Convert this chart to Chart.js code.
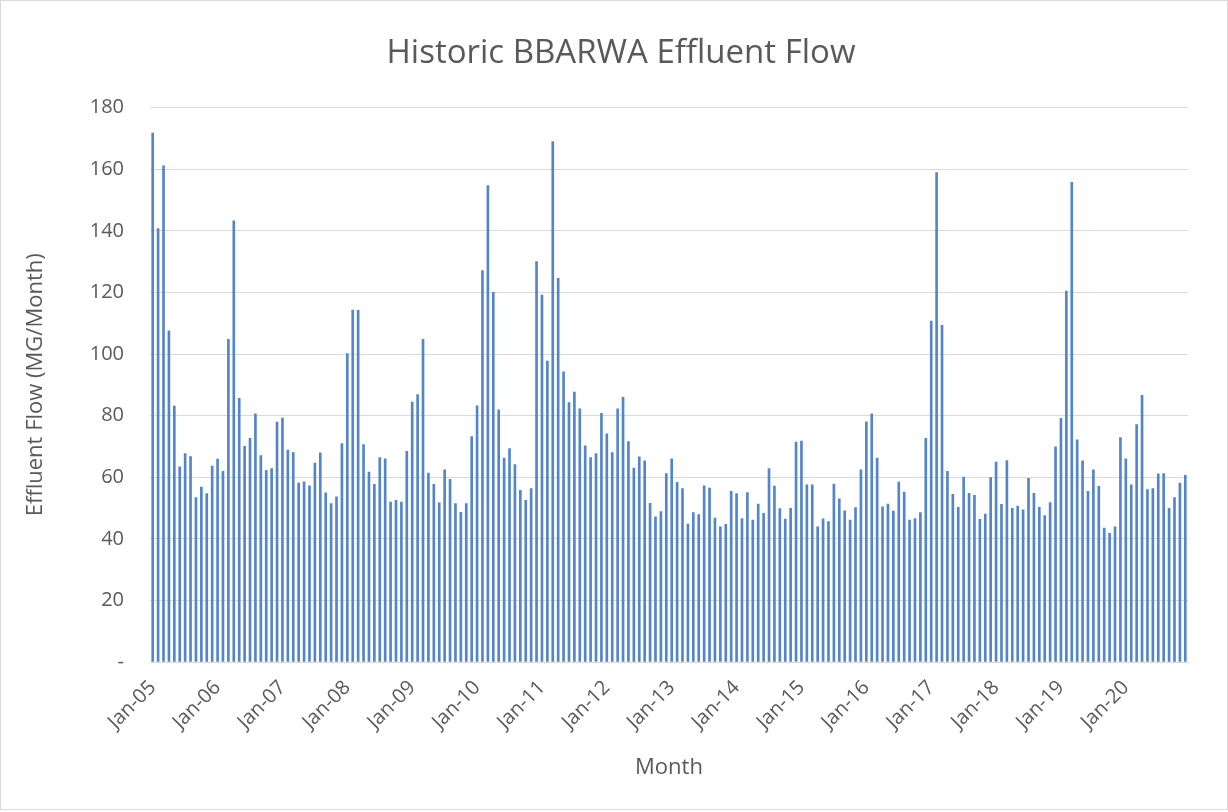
<!DOCTYPE html>
<html>
<head>
    <title>Historic BBARWA Effluent Flow</title>
    <script src="https://cdn.jsdelivr.net/npm/chart.js"></script>
    <style>
        body { margin: 0; background: #fff; }
        #wrap { position: relative; width: 1228px; height: 812px; }
        #frame { position: absolute; left: 0; top: 0; width: 1226px; height: 808px; border: 1px solid #d9d9d9; pointer-events: none; }
    </style>
</head>
<body>
<div id="wrap">
    <canvas id="flowChart" width="1228" height="812"></canvas>
    <div id="frame"></div>
</div>
<script>
    // monthly effluent flow, MG/month
    const years = ['05', '06', '07', '08', '09', '10', '11', '12', '13', '14', '15', '16', '17', '18', '19', '20'];
    const monthNames = ['Jan', 'Feb', 'Mar', 'Apr', 'May', 'Jun', 'Jul', 'Aug', 'Sep', 'Oct', 'Nov', 'Dec'];

    const flow2005 = [171.7, 140.7, 161.1, 107.5, 83.1, 63.4, 67.7, 66.7, 53.4, 56.8, 54.7, 63.6];
    const flow2006 = [65.9, 61.9, 104.8, 143.2, 85.6, 70.0, 72.6, 80.6, 67.0, 62.2, 62.8, 77.9];
    const flow2007 = [79.2, 68.8, 68.0, 58.1, 58.5, 57.2, 64.6, 67.9, 54.9, 51.4, 53.6, 70.9];
    const flow2008 = [100.1, 114.3, 114.2, 70.6, 61.7, 57.7, 66.4, 66.0, 51.9, 52.5, 51.9, 68.4];
    const flow2009 = [84.4, 86.8, 104.8, 61.3, 57.7, 51.7, 62.4, 59.3, 51.4, 48.6, 51.4, 73.2];
    const flow2010 = [83.2, 127.1, 154.7, 120.0, 81.9, 66.2, 69.3, 64.1, 55.7, 52.5, 56.3, 130.0];
    const flow2011 = [119.1, 97.7, 169.0, 124.6, 94.2, 84.2, 87.6, 82.2, 70.2, 66.4, 67.7, 80.7];
    const flow2012 = [74.1, 68.0, 82.2, 85.9, 71.6, 63.0, 66.6, 65.3, 51.5, 47.1, 48.8, 61.2];
    const flow2013 = [66.0, 58.3, 56.3, 44.8, 48.5, 47.9, 57.2, 56.5, 46.7, 43.9, 44.7, 55.4];
    const flow2014 = [54.7, 46.6, 55.0, 46.1, 51.3, 48.3, 62.8, 57.1, 49.8, 46.4, 49.9, 71.4];
    const flow2015 = [71.7, 57.5, 57.5, 43.9, 46.5, 45.6, 57.8, 53.0, 49.1, 46.1, 50.1, 62.4];
    const flow2016 = [78.0, 80.6, 66.2, 50.4, 51.3, 49.0, 58.4, 55.2, 46.1, 46.6, 48.5, 72.6];
    const flow2017 = [110.7, 158.9, 109.3, 61.9, 54.4, 50.2, 60.0, 54.8, 54.1, 46.3, 48.0, 59.9];
    const flow2018 = [64.9, 51.2, 65.4, 49.9, 50.6, 49.4, 59.6, 54.8, 50.2, 47.5, 51.8, 69.9];
    const flow2019 = [79.1, 120.4, 155.7, 72.1, 65.3, 55.4, 62.4, 57.0, 43.5, 41.8, 43.9, 72.9];
    const flow2020 = [66.0, 57.5, 77.1, 86.6, 56.0, 56.3, 61.1, 61.2, 49.9, 53.4, 58.1, 60.6];

    const flow = [].concat(flow2005, flow2006, flow2007, flow2008, flow2009, flow2010, flow2011, flow2012,
        flow2013, flow2014, flow2015, flow2016, flow2017, flow2018, flow2019, flow2020);

    const labels = [];
    years.forEach(y => monthNames.forEach(m => labels.push(m + '-' + y)));

    Chart.defaults.font.family = '"Open Sans", sans-serif';
    Chart.defaults.color = '#595959';

    new Chart(document.getElementById('flowChart'), {
        type: 'bar',
        data: {
            labels: labels,
            datasets: [{
                label: 'Effluent Flow',
                data: flow,
                backgroundColor: '#5485ca',
                barThickness: 2
            }]
        },
        options: {
            responsive: false,
            animation: false,
            // left padding larger so the title centres where the original does
            layout: { padding: { left: 54, right: 40, top: 20, bottom: 27 } },
            plugins: {
                legend: { display: false },
                tooltip: { enabled: false },
                title: {
                    display: true,
                    text: 'Historic BBARWA Effluent Flow',
                    font: { size: 33, weight: 'normal' },
                    color: '#595959',
                    padding: { top: 14, bottom: 34 }
                }
            },
            scales: {
                x: {
                    grid: { display: false },
                    border: { color: '#d9d9d9', width: 1 },
                    ticks: {
                        autoSkip: false,
                        maxRotation: 45,
                        minRotation: 45,
                        padding: 6,
                        font: { size: 20 },
                        callback: function (val, i) {
                            return i % 12 === 0 ? this.getLabelForValue(val) : '';
                        }
                    },
                    title: { display: true, text: 'Month', font: { size: 22 } },
                    afterFit: s => { s.height = 123; }
                },
                y: {
                    min: 0,
                    max: 180,
                    grid: { color: '#d9d9d9', drawTicks: false },
                    border: { display: false },
                    ticks: {
                        stepSize: 20,
                        padding: 26,
                        font: { size: 20 },
                        callback: v => v === 0 ? '-' : v
                    },
                    title: {
                        display: true,
                        text: 'Effluent Flow (MG/Month)',
                        font: { size: 22 },
                        padding: { top: -31, bottom: 0 }
                    },
                    afterFit: s => { s.width = 96; }
                }
            }
        }
    });
</script>
</body>
</html>
